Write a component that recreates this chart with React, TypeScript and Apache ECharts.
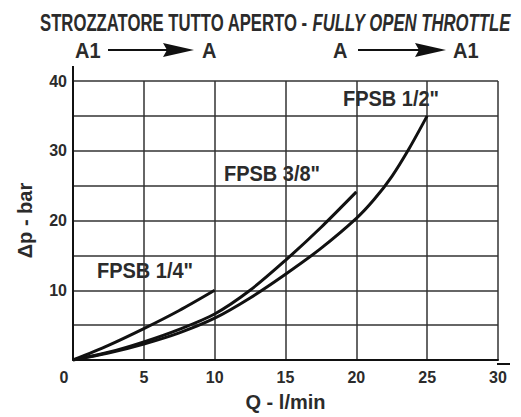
import React, { useEffect, useRef } from "react";
import * as echarts from "echarts";

const qHalf = [0, 2.5, 5, 7.5, 10, 12.5, 15, 17.5, 20, 21.25, 22.5, 23.75, 25];
const dpHalf = [0, 1.0, 2.3, 3.9, 6.0, 8.9, 12.3, 16.0, 20.3, 23.0, 26.3, 30.4, 35];
const qThreeEighths = [0, 2.5, 5, 7.5, 10, 12.5, 15, 17.5, 20];
const dpThreeEighths = [0, 1.1, 2.6, 4.4, 6.6, 10.0, 14.3, 19.0, 24.1];
const qQuarter = [0, 2.5, 5, 7.5, 10];
const dpQuarter = [0, 2.1, 4.5, 7.1, 10];
const seriesNames = ['FPSB 1/4"', 'FPSB 3/8"', 'FPSB 1/2"'];
const xTicks = [0, 5, 10, 15, 20, 25, 30];
const yLabelled = [10, 20, 30, 40];

const FONT = "'Liberation Sans', Arial, Helvetica, sans-serif";
const TXT = "#2b2b2b";

const zip = (a: number[], b: number[]) => a.map((v, i) => [v, b[i]]);

export default function App() {
  const ref = useRef<HTMLDivElement>(null);
  useEffect(() => {
    if (!ref.current) return;
    const chart = echarts.init(ref.current, null, { renderer: "svg" });
    const lineStyle = { color: "#111", width: 3 };
    const mk = (name: string, q: number[], dp: number[]) => ({
      name,
      type: "line",
      data: zip(q, dp),
      smooth: 0.3,
      showSymbol: false,
      lineStyle,
      z: 5,
    });
    const txt = (text: string, x: number, y: number) => ({
      type: "text",
      x,
      y,
      scaleY: 1.08,
      style: {
        text,
        fill: TXT,
        font: `bold 20px ${FONT}`,
        verticalAlign: "middle",
        align: "left",
      },
    });
    chart.setOption({
      animation: false,
      backgroundColor: "#fff",
      grid: { left: 73, top: 81, right: 23, bottom: 53 },
      xAxis: {
        type: "value",
        min: 0,
        max: 30,
        interval: 5,
        name: "Q - l/min",
        nameLocation: "middle",
        nameGap: 32,
        nameTextStyle: { fontFamily: FONT, fontWeight: "bold", fontSize: 20, color: TXT },
        axisLine: { show: true, lineStyle: { color: "#111", width: 2 } },
        axisTick: { show: false },
        axisLabel: {
          margin: 9,
          fontFamily: FONT,
          fontWeight: "bold",
          fontSize: 16,
          color: TXT,
          formatter: (v: number) => (xTicks.includes(v) ? (v === 0 ? "{z|0}" : String(v)) : ""),
          rich: { z: { padding: [0, 18, 0, 0], fontFamily: FONT, fontWeight: "bold", fontSize: 16, color: TXT } },
        },
        splitLine: { show: true, lineStyle: { color: "#333", width: 1.5 } },
      },
      yAxis: {
        type: "value",
        min: 0,
        max: 40,
        interval: 5,
        name: "Δp - bar",
        nameLocation: "middle",
        nameGap: 38,
        nameRotate: 90,
        nameTextStyle: { fontFamily: FONT, fontWeight: "bold", fontSize: 20, color: TXT },
        axisLine: { show: true, lineStyle: { color: "#111", width: 2 } },
        axisTick: { show: false },
        axisLabel: {
          margin: 6,
          fontFamily: FONT,
          fontWeight: "bold",
          fontSize: 16,
          color: TXT,
          formatter: (v: number) => (yLabelled.includes(v) ? String(v) : ""),
        },
        splitLine: { show: true, lineStyle: { color: "#333", width: 1.5 } },
      },
      series: [
        mk(seriesNames[0], qQuarter, dpQuarter),
        mk(seriesNames[1], qThreeEighths, dpThreeEighths),
        mk(seriesNames[2], qHalf, dpHalf),
      ],
      graphic: [
        {
          type: "text",
          x: 40,
          y: 22,
          scaleX: 0.835,
          scaleY: 1.18,
          style: {
            text: "{a|STROZZATORE TUTTO APERTO - }{b|FULLY OPEN THROTTLE}",
            verticalAlign: "middle",
            align: "left",
            rich: {
              a: { font: `bold 20px ${FONT}`, fill: TXT },
              b: { font: `italic bold 20px ${FONT}`, fill: TXT },
            },
          },
        },
        txt("A1", 75, 50),
        { type: "line", shape: { x1: 108, y1: 50, x2: 168, y2: 50 }, style: { stroke: "#111", lineWidth: 2.2 } },
        { type: "polygon", shape: { points: [[163, 43], [194, 50], [163, 57], [167, 50]] }, style: { fill: "#111" } },
        txt("A", 202, 50),
        txt("A", 333, 50),
        { type: "line", shape: { x1: 358, y1: 50, x2: 420, y2: 50 }, style: { stroke: "#111", lineWidth: 2.2 } },
        { type: "polygon", shape: { points: [[415, 43], [446, 50], [415, 57], [419, 50]] }, style: { fill: "#111" } },
        txt("A1", 453, 50),
        { type: "line", shape: { x1: 73, y1: 66, x2: 73, y2: 82 }, style: { stroke: "#111", lineWidth: 2 } },
        { type: "line", shape: { x1: 497, y1: 364, x2: 510, y2: 364 }, style: { stroke: "#111", lineWidth: 2 } },
        txt(seriesNames[0], 97, 270),
        txt(seriesNames[1], 224, 173),
        txt(seriesNames[2], 343, 98),
      ],
    });
    return () => chart.dispose();
  }, []);
  return <div ref={ref} style={{ width: 521, height: 417, position: "fixed", left: 0, top: 0 }} />;
}
